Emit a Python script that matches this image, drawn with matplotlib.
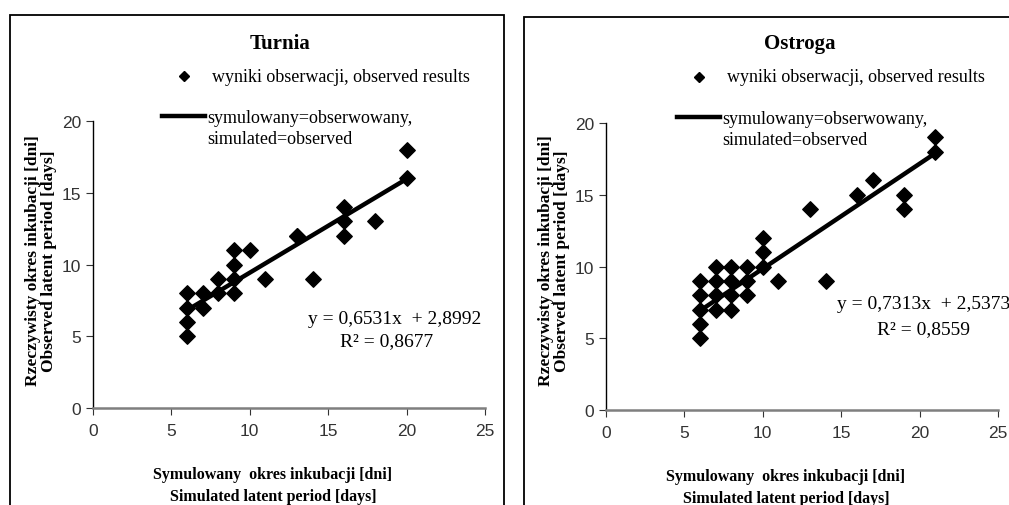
import numpy as np
import matplotlib.pyplot as plt
from matplotlib.patches import Rectangle
from matplotlib.lines import Line2D

plt.rcParams['font.family'] = 'Liberation Serif'

## data
turnia_x = [6, 6, 6, 6, 7, 7, 8, 8, 9, 9, 9, 9, 10, 11, 13, 13, 14, 16, 16, 16, 18, 20, 20]
turnia_y = [8, 7, 6, 5, 8, 7, 8, 9, 11, 10, 9, 8, 11, 9, 12, 12, 9, 14, 13, 12, 13, 18, 16]
turnia_fit = (0.6531, 2.8992)   # slope, intercept
turnia_r2 = 0.8677

ostroga_x = [6, 6, 6, 6, 6, 7, 7, 7, 7, 8, 8, 8, 8, 9, 9, 9, 10, 10, 10, 11, 13, 14,
             16, 17, 19, 19, 21, 21]
ostroga_y = [9, 8, 7, 6, 5, 10, 9, 8, 7, 10, 9, 8, 7, 10, 9, 8, 12, 11, 10, 9, 14, 9,
             15, 16, 15, 14, 19, 18]
ostroga_fit = (0.7313, 2.5373)
ostroga_r2 = 0.8559

ticks = [0, 5, 10, 15, 20, 25]
yticks = [0, 5, 10, 15, 20]

xlab = 'Symulowany  okres inkubacji [dni]\nSimulated latent period [days]'
ylab = 'Rzeczywisty okres inkubacji [dni]\nObserved latent period [days]'
lab_pts = 'wyniki obserwacji, observed results'
lab_line = 'symulowany=obserwowany,\nsimulated=observed'

W, H = 1009, 506
fig = plt.figure(figsize=(W/100, H/100), dpi=100)

def fx(px): return px / W
def fy(py): return 1 - py / H

# panel frames
fig.patches.append(Rectangle((fx(10), fy(530)), fx(504) - fx(10), fy(16) - fy(530),
                             transform=fig.transFigure, fill=False, lw=1.3, ec='black'))
fig.patches.append(Rectangle((fx(524), fy(530)), fx(1040) - fx(524), fy(18) - fy(530),
                             transform=fig.transFigure, fill=False, lw=1.3, ec='black'))

def panel(x0, ybot, ytop, xs, ys, fit, r2, title, tx, legx, legy, eqx, eqy, r2x, r2y,
          ylx, xly):
    ax = fig.add_axes([fx(x0), fy(ybot), 392 / W, (ybot - ytop) / H])
    ax.set_xlim(0, 25)
    ax.set_ylim(0, 20)
    for s in ['top', 'right']:
        ax.spines[s].set_visible(False)
    ax.spines['bottom'].set_color('#7f7f7f')
    ax.spines['bottom'].set_linewidth(1.8)
    ax.spines['left'].set_linewidth(1.0)
    ax.set_xticks(ticks)
    ax.set_yticks(yticks)
    ax.tick_params(direction='out', length=5, labelsize=12.5, colors='#333333')
    for lb in ax.get_xticklabels() + ax.get_yticklabels():
        lb.set_family('Liberation Sans')
    ax.tick_params(axis='x', pad=6)
    ax.patch.set_alpha(0)

    ax.scatter(xs, ys, marker='D', s=62, color='black', zorder=3)
    a, b = fit
    xx = np.array([min(xs), max(xs)])
    ax.plot(xx, a * xx + b, color='black', lw=3.2, zorder=2)

    fig.text(fx(tx), fy(44), title, ha='center', va='center', fontsize=15, weight='bold')
    # legend
    fig.add_artist(Line2D([fx(legx + 22)], [fy(legy - 40)], marker='D', ms=5.5,
                          color='black', transform=fig.transFigure))
    fig.text(fx(legx + 50), fy(legy - 40), lab_pts, ha='left', va='center', fontsize=13)
    fig.add_artist(Line2D([fx(legx), fx(legx + 43)], [fy(legy), fy(legy)], lw=3.2,
                          color='black', transform=fig.transFigure))
    fig.text(fx(legx + 45), fy(legy - 7), lab_line, ha='left', va='top', fontsize=13,
             linespacing=1.3)
    # equation
    eq = 'y = %sx  + %s' % (('%.4f' % a).replace('.', ','), ('%.4f' % b).replace('.', ','))
    fig.text(fx(eqx), fy(eqy), eq, ha='left', va='center', fontsize=14)
    fig.text(fx(r2x), fy(r2y), 'R² = ' + ('%.4f' % r2).replace('.', ','),
             ha='left', va='center', fontsize=14)
    # axis labels
    fig.text(fx(ylx), fy(261), ylab, ha='center', va='center', rotation=90,
             fontsize=12.5, weight='bold', linespacing=1.05)
    fig.text(fx(x0 + 180), fy(xly), xlab, ha='center', va='center',
             fontsize=11.5, weight='bold', linespacing=1.55)
    return ax

panel(93, 409, 122, turnia_x, turnia_y, turnia_fit, turnia_r2, 'Turnia', 280,
      162, 117, 308, 320, 340, 342, 41, 486)
panel(606, 411, 124, ostroga_x, ostroga_y, ostroga_fit, ostroga_r2, 'Ostroga', 800,
      677, 118, 837, 305, 877, 330, 554, 488)

fig.savefig('out.png', dpi=100)
